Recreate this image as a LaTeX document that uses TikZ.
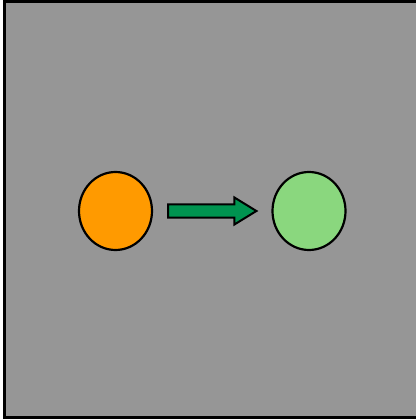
\documentclass[tikz,border=0pt]{standalone}
\usepackage{tikz}
\usetikzlibrary{shapes.geometric,calc}

\definecolor{panelgray}{RGB}{150,150,150}
\definecolor{dotorange}{RGB}{255,154,0}
\definecolor{dotgreen}{RGB}{138,215,126}
\definecolor{arrowgreen}{RGB}{0,148,80}

\begin{document}
\begin{tikzpicture}[x=1pt,y=-1pt,
  dot node/.style={ellipse,draw=black,line width=2.2pt,inner sep=0pt,
    minimum width=73pt,minimum height=78pt},
  block arrow/.style={draw=black,fill=arrowgreen,line width=2pt,line join=miter}]

 \useasboundingbox (0,0) rectangle (415,419);
 \draw[fill=panelgray,line width=3pt] (4.5,2) rectangle (440,417.5);

 \node[dot node,fill=dotorange] (src) at (115.5,211) {};
 \node[dot node,fill=dotgreen] (dst) at (309,211) {};

 % arrow from src to dst
 \coordinate (tail) at ($(src.east)+(15,0)$);
 \coordinate (tip) at ($(dst.west)+(-15,0)$);
 \draw[block arrow] ($(tail)+(0,-6.5)$) -- ($(tip)+(-22,-6.5)$) -- ($(tip)+(-22,-13.5)$)
    -- (tip) -- ($(tip)+(-22,13.5)$) -- ($(tip)+(-22,6.5)$) -- ($(tail)+(0,6.5)$) -- cycle;

\end{tikzpicture}
\end{document}
